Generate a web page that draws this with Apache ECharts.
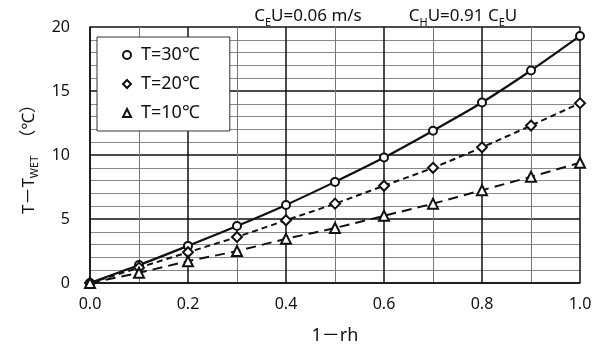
<!DOCTYPE html>
<html>
<head>
<meta charset="utf-8">
<script src="https://cdn.jsdelivr.net/npm/echarts@6/dist/echarts.min.js"></script>
<style>
  html, body { margin: 0; padding: 0; background: #fff; }
  #chart { width: 600px; height: 351px; }
</style>
</head>
<body>
<div id="chart"></div>
<script>
// 1 - rh
const xValues = [0, 0.1, 0.2, 0.3, 0.4, 0.5, 0.6, 0.7, 0.8, 0.9, 1.0];
const t30 = [0, 1.4, 2.9, 4.45, 6.1, 7.9, 9.8, 11.9, 14.1, 16.6, 19.3];
const t20 = [0, 1.2, 2.4, 3.6, 4.9, 6.2, 7.6, 9.0, 10.6, 12.3, 14.05];
const t10 = [0, 0.8, 1.7, 2.5, 3.45, 4.3, 5.25, 6.2, 7.25, 8.3, 9.4];
const names = ['T=30℃', 'T=20℃', 'T=10℃'];

const font = '"Noto Sans", "Noto Sans CJK JP", sans-serif';
const pairs = (ys) => xValues.map((x, i) => [x, ys[i]]);

let myChart = echarts.init(document.getElementById('chart'));

const mk = (name, data, symbol, size, dash, w) => ({
  name: name,
  type: 'line',
  smooth: 0.3,
  data: pairs(data),
  symbol: symbol,
  symbolSize: size,
  itemStyle: { color: '#111', borderWidth: 1 },
  lineStyle: { color: '#111', width: w, type: dash },
  z: 3
});

const titleRich = {
  n: { fontSize: 17, fontWeight: 'normal', fontFamily: font, color: '#111' },
  s: { fontSize: 11, fontWeight: 'normal', fontFamily: font, color: '#111', padding: [12, 0, 0, 0] }
};

myChart.setOption({
  animation: false,
  textStyle: { fontFamily: font, color: '#111' },
  title: [
    {
      text: '{n|C}{s|E}{n|U=0.06 m/s}',
      left: 303, top: 0, textAlign: 'center',
      textStyle: { fontWeight: 'normal', rich: titleRich }
    },
    {
      text: '{n|C}{s|H}{n|U=0.91 C}{s|E}{n|U}',
      left: 458, top: 0, textAlign: 'center',
      textStyle: { fontWeight: 'normal', rich: titleRich }
    }
  ],
  grid: { left: 90, right: 20, top: 27, bottom: 68, containLabel: false },
  legend: {
    orient: 'vertical',
    left: 97, top: 37,
    padding: [9, 30, 9, 25],
    itemGap: 11,
    itemWidth: 8, itemHeight: 8,
    backgroundColor: '#fff',
    borderColor: '#333', borderWidth: 1,
    textStyle: { fontSize: 18, fontFamily: font, color: '#111', padding: [0, 0, 0, 5] },
    data: [
      { name: names[0], icon: 'emptyCircle', itemStyle: { color: '#111', borderWidth: 1 } },
      { name: names[1], icon: 'emptyDiamond', itemStyle: { color: '#111', borderWidth: 1 } },
      { name: names[2], icon: 'emptyTriangle', itemStyle: { color: '#111', borderWidth: 1 } }
    ],
    z: 10
  },
  xAxis: {
    type: 'value',
    min: 0, max: 1, interval: 0.2,
    name: '1－rh',
    nameLocation: 'middle',
    nameGap: 44,
    nameTextStyle: { fontSize: 18, fontFamily: font, color: '#111' },
    axisLine: { show: true, lineStyle: { color: '#111', width: 1.5 } },
    axisTick: { show: false },
    axisLabel: { fontSize: 16, color: '#111', margin: 13, formatter: (v) => v.toFixed(1) },
    splitLine: { show: true, lineStyle: { color: '#111', width: 1.5 } },
    minorTick: { show: false, splitNumber: 2 },
    minorSplitLine: { show: true, lineStyle: { color: '#777', width: 1 } }
  },
  yAxis: {
    type: 'value',
    min: 0, max: 20, interval: 5,
    name: '{n|T－T}{s|WET}{n|  （℃）}',
    nameLocation: 'middle',
    nameGap: 50,
    nameRotate: 90,
    nameTextStyle: {
      rich: {
        n: { fontSize: 17, fontFamily: font, color: '#111' },
        s: { fontSize: 11, fontFamily: font, color: '#111', padding: [10, 0, 0, 0] }
      }
    },
    axisLine: { show: true, lineStyle: { color: '#111', width: 1.5 } },
    axisTick: { show: false },
    axisLabel: { fontSize: 16, color: '#111', margin: 20 },
    splitLine: { show: true, lineStyle: { color: '#111', width: 1.5 } },
    minorTick: { show: false, splitNumber: 5 },
    minorSplitLine: { show: true, lineStyle: { color: '#888', width: 1 } }
  },
  series: [
    mk(names[0], t30, 'emptyCircle', 8, 'solid', 2.2),
    mk(names[1], t20, 'emptyDiamond', 10, [6, 4], 2),
    mk(names[2], t10, 'emptyTriangle', 10, [10, 6], 2)
  ]
});
</script>
</body>
</html>
